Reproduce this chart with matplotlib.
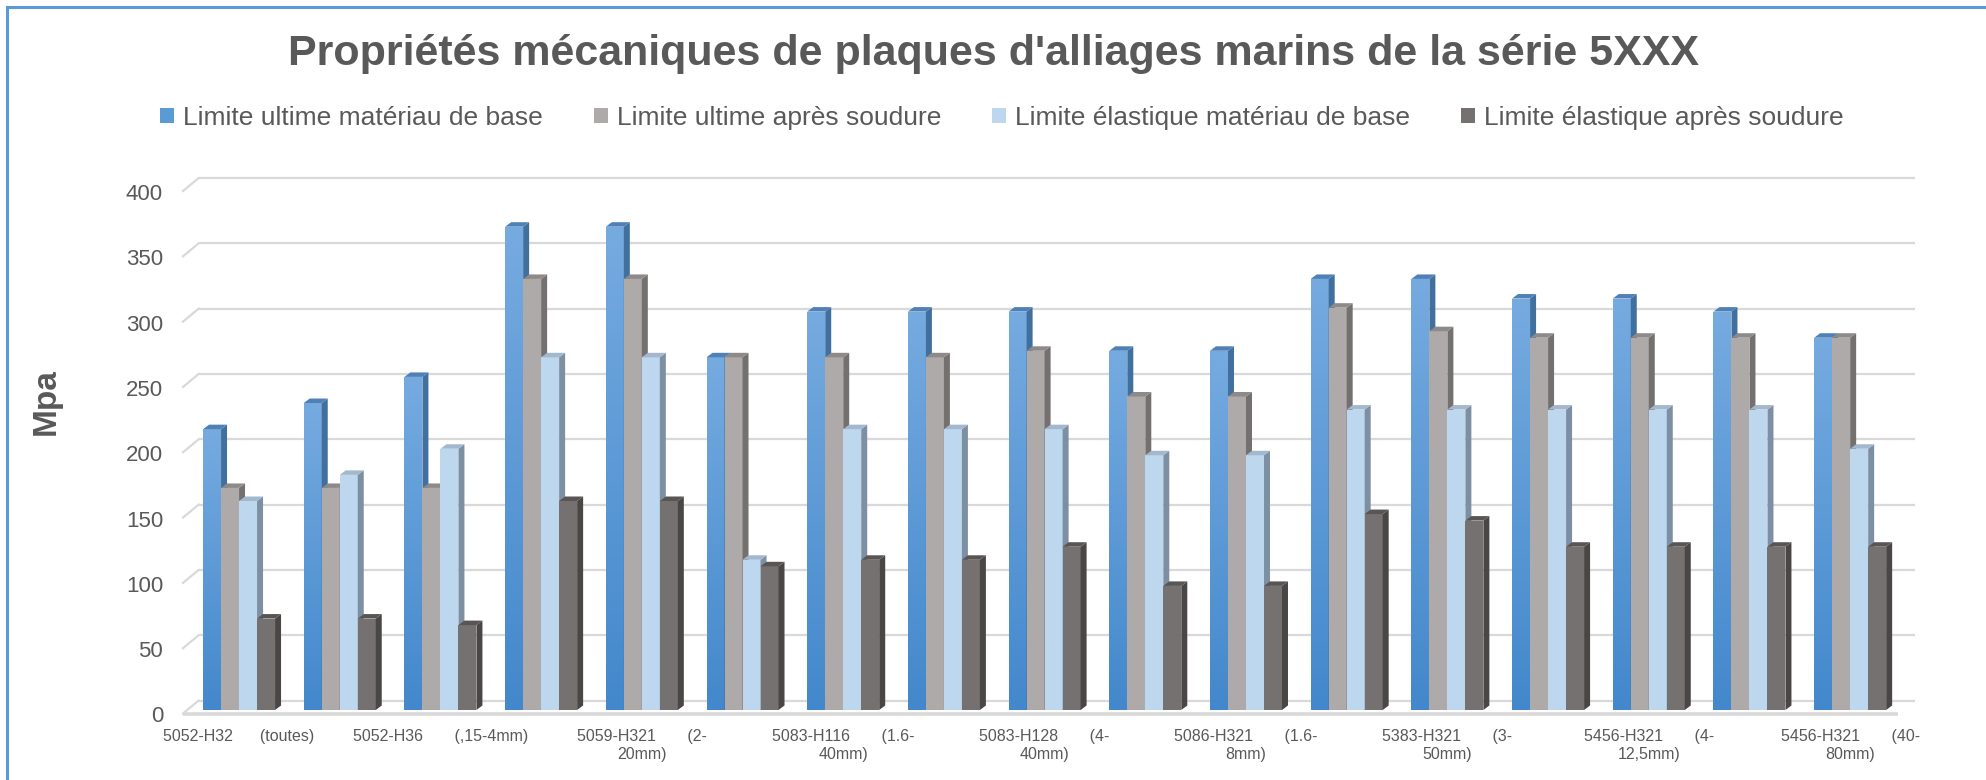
import numpy as np
import matplotlib
matplotlib.use('Agg')
import matplotlib.pyplot as plt
import matplotlib.patches as patches
import matplotlib.colors as mcolors
from matplotlib.lines import Line2D
from matplotlib.transforms import ScaledTranslation

plt.rcParams['font.family'] = ['Liberation Sans', 'DejaVu Sans']

# ---------------- data ----------------
series_names = ["Limite ultime matériau de base",
                "Limite ultime après soudure",
                "Limite élastique matériau de base",
                "Limite élastique après soudure"]

ultime_base = [215, 235, 255, 370, 370, 270, 305, 305, 305, 275, 275, 330, 330, 315, 315, 305, 285]
ultime_soudure = [170, 170, 170, 330, 330, 270, 270, 270, 275, 240, 240, 308, 290, 285, 285, 285, 285]
elastique_base = [160, 180, 200, 270, 270, 115, 215, 215, 215, 195, 195, 230, 230, 230, 230, 230, 200]
elastique_soudure = [70, 70, 65, 160, 160, 110, 115, 115, 125, 95, 95, 150, 145, 125, 125, 125, 125]

# category labels, shown on every second group
tick_labels = ["5052-H32      (toutes)",
               "5052-H36       (,15-4mm)",
               "5059-H321       (2-\n20mm)",
               "5083-H116       (1.6-\n40mm)",
               "5083-H128       (4-\n40mm)",
               "5086-H321       (1.6-\n8mm)",
               "5383-H321       (3-\n50mm)",
               "5456-H321       (4-\n12,5mm)",
               "5456-H321       (40-\n80mm)"]
label_every = 2

y_ticks = [0, 50, 100, 150, 200, 250, 300, 350, 400]

# ---------------- styles ----------------
TXT = '#595959'
GRID = '#D9D9D9'
front_cols = ['#5b9bd5', '#aeaaaa', '#bdd7ee', '#767171']
side_cols = ['#41709f', '#747070', '#7d8fa2', '#4a4646']
top_cols = ['#4f81b8', '#8e8a8a', '#a3b8cd', '#5a5555']
blue_top, blue_bot = '#76abe0', '#4388cc'

W_PX, H_PX = 1986, 780
fig = plt.figure(figsize=(W_PX / 100, H_PX / 100), dpi=100)

ax_left, ax_right = 188.7, 1900.5
ax_bottom, ax_top = 710.0, 187.5
ax = fig.add_axes([ax_left / W_PX, 1 - ax_bottom / H_PX,
                   (ax_right - ax_left) / W_PX, (ax_bottom - ax_top) / H_PX])

n = len(ultime_base)
xmin, xmax = -0.5, n - 0.5
ymin, ymax = 0, 400
PX_X = (xmax - xmin) / (ax_right - ax_left)   # data units per pixel
PX_Y = (ymax - ymin) / (ax_bottom - ax_top)

# ---------------- gridlines (back wall) ----------------
for yv in y_ticks:
    yb = yv + 9.5 * PX_Y
    yf = yv - 3.5 * PX_Y
    ax.plot([xmin + 10 * PX_X, xmax + 14 * PX_X], [yb, yb], color=GRID,
            lw=1.6, zorder=0, clip_on=False, solid_capstyle='butt')
    ax.plot([xmin - 5.7 * PX_X, xmin + 10 * PX_X], [yf, yb], color=GRID,
            lw=1.6, zorder=0, clip_on=False)
# front floor edge
ax.plot([xmin - 5.7 * PX_X, xmax - 2.5 * PX_X], [-3.5 * PX_Y] * 2, color=GRID,
        lw=2.6, zorder=0, clip_on=False, solid_capstyle='butt')

# ---------------- 3D-looking bars ----------------
all_series = [ultime_base, ultime_soudure, elastique_base, elastique_soudure]
x = np.arange(n)
bw = 18 * PX_X
dx, dy = 6 * PX_X, 4.5 * PX_Y
grad = np.linspace(0, 1, 256).reshape(-1, 1)
blue_cmap = mcolors.LinearSegmentedColormap.from_list('bl', [blue_bot, blue_top])

for i, vals in enumerate(all_series):
    xs = x + (i - 1.5) * bw
    bars = ax.bar(xs, vals, width=bw, color=front_cols[i], linewidth=0, zorder=1)
    for b, v in zip(bars, vals):
        x0 = b.get_x()
        x1 = x0 + bw
        if i == 0:
            im = ax.imshow(grad, extent=(x0, x1, 0, v), origin='lower', cmap=blue_cmap,
                           aspect='auto', zorder=1, interpolation='bilinear')
            im.set_clip_path(b)
        side = patches.Polygon([(x1, 0), (x1 + dx, dy), (x1 + dx, v + dy), (x1, v)],
                               closed=True, facecolor=side_cols[i], edgecolor='none', zorder=1)
        top = patches.Polygon([(x0, v), (x0 + dx, v + dy), (x1 + dx, v + dy), (x1, v)],
                              closed=True, facecolor=top_cols[i], edgecolor='none', zorder=1)
        ax.add_patch(side)
        ax.add_patch(top)

ax.set_xlim(xmin, xmax)
ax.set_ylim(ymin, ymax)

for s in ax.spines.values():
    s.set_visible(False)

ax.set_yticks(y_ticks)
ax.set_yticklabels([str(v) for v in y_ticks])
ax.tick_params(axis='y', length=0, pad=18.5, labelsize=16, labelcolor=TXT)
for lab in ax.get_yticklabels():
    lab.set_transform(lab.get_transform() + ScaledTranslation(0, -4.5 / 100, fig.dpi_scale_trans))

ax.set_xticks(x[::label_every])
ax.set_xticklabels(tick_labels, fontsize=11.5, color=TXT, linespacing=1.25,
                   multialignment='center')
ax.tick_params(axis='x', length=0, pad=13.5)

# ---------------- text ----------------
fig.text(0.5, 1 - 65 / H_PX, "Propriétés mécaniques de plaques d'alliages marins de la série 5XXX",
         ha='center', va='baseline', fontsize=31, fontweight='bold', color=TXT)

fig.text(46 / W_PX, 1 - 402 / H_PX, "Mpa", rotation=90, ha='center', va='center',
         fontsize=24, fontweight='bold', color=TXT)

handles = [patches.Patch(facecolor=c, edgecolor='none') for c in front_cols]
fig.legend(handles, series_names, loc='center', bbox_to_anchor=(0.5045, 1 - 118 / H_PX),
           ncol=4, frameon=False, fontsize=19, labelcolor=TXT,
           handlelength=0.53, handleheight=0.53, handletextpad=0.34, columnspacing=1.93)

# ---------------- chart frame (top and left only) ----------------
fig.add_artist(Line2D([7 / W_PX, 1], [1 - 7 / H_PX] * 2, color='#5b9bd5', lw=2.2,
                      transform=fig.transFigure))
fig.add_artist(Line2D([7 / W_PX] * 2, [0, 1 - 7 / H_PX], color='#5b9bd5', lw=2.2,
                      transform=fig.transFigure))

fig.savefig('out.png', dpi=100, facecolor='white')
